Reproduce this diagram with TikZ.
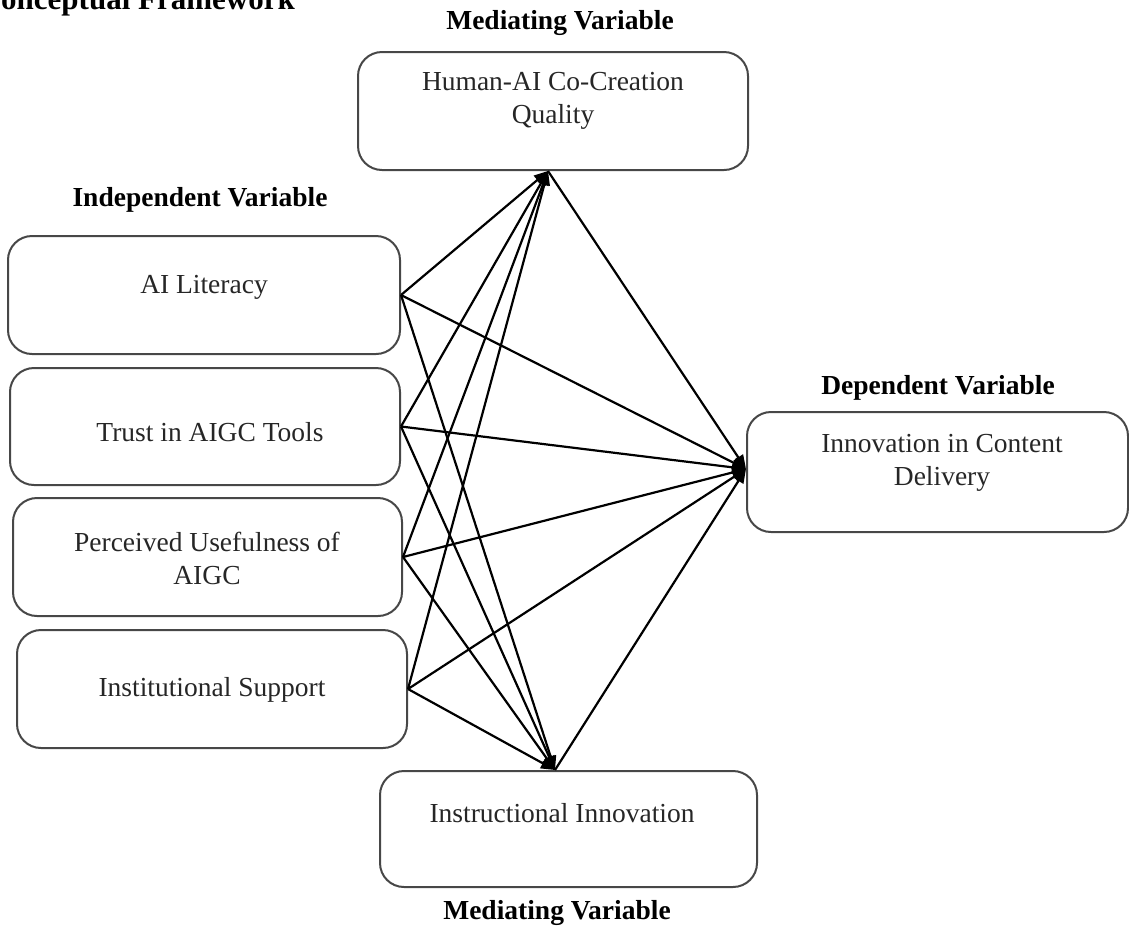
\documentclass[tikz,border=0pt]{standalone}
\usepackage{fontspec}
\setmainfont{Liberation Serif}
\usetikzlibrary{arrows.meta}
\tikzset{
  box/.style={draw=black!72, line width=2pt, rounded corners=24pt, inner sep=0pt},
  txt/.style={font=\fontsize{27.5}{33}\selectfont, text=black!85, align=center, inner sep=0pt},
  head/.style={font=\bfseries\fontsize{27.5}{33}\selectfont, inner sep=0pt},
  link/.style={line width=2.2pt, -{Triangle[length=14pt,width=11pt]}}
}
\begin{document}
\begin{tikzpicture}[x=1pt,y=-1pt]
\useasboundingbox (0,0) rectangle (1129,930);
% title (cut off at the page edge as in the source)
\node[font=\bfseries\fontsize{31}{37}\selectfont, anchor=base east, inner sep=0pt] (title) at (295,9) {Conceptual Framework};
% boxes
\node[box, minimum width=390pt, minimum height=118pt] (top) at (553,111) {};
\node[box, minimum width=392pt, minimum height=118pt] (ail) at (204,295) {};
\node[box, minimum width=390pt, minimum height=117pt] (trust) at (205,426.5) {};
\node[box, minimum width=389pt, minimum height=118pt] (pu) at (207.5,557) {};
\node[box, minimum width=390pt, minimum height=118pt] (is) at (212,689) {};
\node[box, minimum width=381pt, minimum height=120pt] (dv) at (937.5,472) {};
\node[box, minimum width=377pt, minimum height=116pt] (bot) at (568.5,829) {};
% texts
\node[head] (hTop) at (560,23) {Mediating Variable};
\node[txt] (tTop) at (553,101) {Human-AI Co-Creation\\Quality};
\node[head] (hIV) at (200,200) {Independent Variable};
\node[txt] (tAil) at (204,287) {AI Literacy};
\node[txt] (tTrust) at (210,432) {Trust in AIGC Tools};
\node[txt] (tPu) at (207,558) {Perceived Usefulness of\\AIGC};
\node[txt] (tIs) at (212,690) {Institutional Support};
\node[head] (hDV) at (938,388) {Dependent Variable};
\node[txt] (tDv) at (942,463) {Innovation in Content\\Delivery};
\node[txt] (tBot) at (562,813) {Instructional Innovation};
\node[head] (hBot) at (557,913) {Mediating Variable};
% connector end points
\coordinate (mT) at ([xshift=-5pt]top.south);
\coordinate (mB) at ([xshift=-13.5pt]bot.north);
\coordinate (dW) at ([yshift=3pt]dv.west);
% connectors
\foreach \s in {ail,trust,pu,is}{
  \draw[link] (\s.east) -- (mT);
  \draw[link] (\s.east) -- (dW);
  \draw[link] (\s.east) -- (mB);
}
\draw[link] (mT) -- (dW);
\draw[link] (mB) -- (dW);
\end{tikzpicture}
\end{document}
